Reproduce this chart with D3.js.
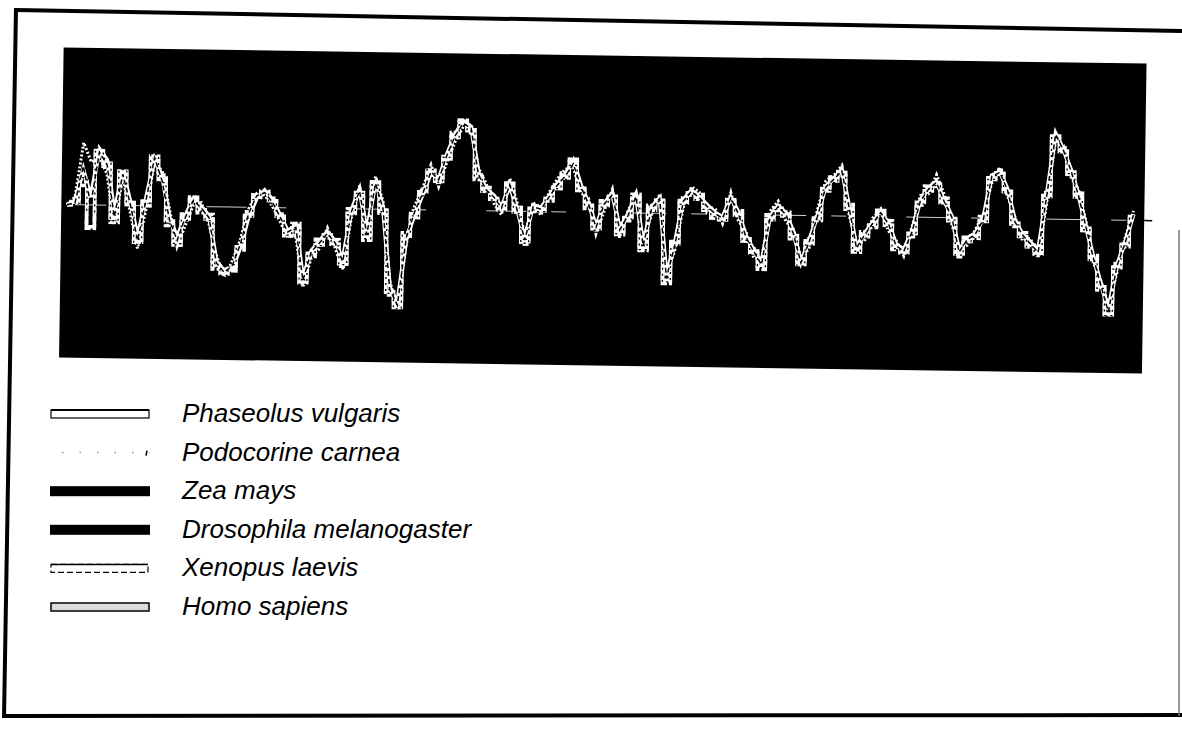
<!DOCTYPE html>
<meta charset="utf-8">
<script src="https://d3js.org/d3.v7.min.js"></script>
<style>
  body { margin: 0; background: #fff; }
</style>
<div id="hydro"></div>

<script>
// hydropathy profiles, one value per residue

const width = 1182
const height = 730

const species = ["Phaseolus vulgaris", "Podocorine carnea", "Zea mays",
                 "Drosophila melanogaster", "Xenopus laevis", "Homo sapiens"]

const residues = d3.range(1, 137)

const phaseolus = [0.00, 0.05, 0.45, 0.10, 0.72, 0.58, -0.10, 0.45, 0.05, -0.40,
  0.10, 0.60, 0.38, -0.15, -0.40, -0.12, 0.10, 0.00, -0.12, -0.70,
  -0.82, -0.80, -0.52, -0.12, 0.12, 0.22, 0.10, -0.10, -0.30, -0.22,
  -0.90, -0.55, -0.42, -0.30, -0.42, -0.66, -0.02, 0.25, -0.30, 0.36,
  0.03, -1.00, -1.20, -0.38, -0.06, 0.20, 0.48, 0.40, 0.72, 0.98,
  1.15, 1.08, 0.50, 0.28, 0.20, 0.05, 0.33, 0.02, -0.35, 0.08,
  0.05, 0.20, 0.36, 0.48, 0.66, 0.35, 0.12, -0.18, 0.12, 0.25,
  -0.20, -0.02, 0.22, -0.40, 0.08, 0.20, -0.80, -0.38, 0.18, 0.30,
  0.22, 0.12, 0.02, -0.04, 0.22, 0.03, -0.28, -0.45, -0.62, -0.02,
  0.12, 0.03, -0.22, -0.60, -0.32, 0.00, 0.38, 0.48, 0.60, 0.12,
  -0.40, -0.22, -0.08, 0.06, -0.08, -0.35, -0.42, -0.18, 0.22, 0.38,
  0.46, 0.22, 0.02, -0.42, -0.26, -0.20, 0.00, 0.55, 0.60, 0.38,
  -0.02, -0.20, -0.30, -0.40, 0.32, 1.10, 0.90, 0.64, 0.32, -0.08,
  -0.48, -0.82, -1.15, -0.58, -0.28, 0.08]

const podocorine = [0.00, 0.10, 0.80, 0.55, 0.62, 0.40, -0.25, 0.35, -0.08, -0.55,
  -0.05, 0.55, 0.45, -0.05, -0.52, -0.25, 0.02, 0.05, -0.22, -0.62,
  -0.90, -0.70, -0.42, -0.02, 0.18, 0.16, 0.02, -0.18, -0.38, -0.35,
  -1.02, -0.64, -0.52, -0.25, -0.50, -0.78, -0.12, 0.30, -0.25, 0.42,
  0.10, -0.92, -1.28, -0.45, 0.05, 0.28, 0.58, 0.30, 0.62, 0.88,
  1.08, 1.10, 0.55, 0.35, 0.10, -0.05, 0.42, 0.10, -0.30, 0.12,
  -0.05, 0.25, 0.42, 0.55, 0.58, 0.25, 0.18, -0.28, 0.02, 0.30,
  -0.32, 0.02, 0.26, -0.35, -0.02, 0.25, -0.78, -0.48, 0.08, 0.35,
  0.28, 0.02, 0.08, -0.12, 0.28, -0.08, -0.22, -0.55, -0.58, 0.05,
  0.18, -0.08, -0.18, -0.55, -0.42, 0.08, 0.45, 0.52, 0.65, 0.02,
  -0.35, -0.32, -0.02, 0.10, -0.18, -0.30, -0.50, -0.12, 0.28, 0.30,
  0.55, 0.30, -0.08, -0.38, -0.35, -0.15, 0.05, 0.45, 0.65, 0.30,
  0.02, -0.28, -0.25, -0.50, 0.22, 1.02, 0.95, 0.55, 0.38, -0.02,
  -0.55, -0.78, -1.10, -0.68, -0.22, 0.12]

const zeaMays = [0.00, 0.02, 0.50, 0.00, 0.68, 0.52, -0.15, 0.40, 0.02, -0.45,
  0.08, 0.62, 0.32, -0.18, -0.44, -0.14, 0.08, -0.02, -0.14, -0.72,
  -0.84, -0.76, -0.48, -0.08, 0.15, 0.19, 0.07, -0.12, -0.31, -0.25,
  -0.93, -0.56, -0.45, -0.32, -0.44, -0.68, -0.04, 0.23, -0.33, 0.33,
  0.01, -1.03, -1.23, -0.36, -0.03, 0.21, 0.49, 0.39, 0.71, 0.96,
  1.12, 1.06, 0.47, 0.27, 0.18, 0.04, 0.34, 0.01, -0.37, 0.06,
  0.03, 0.19, 0.34, 0.46, 0.62, 0.33, 0.11, -0.19, 0.11, 0.23,
  -0.22, -0.04, 0.21, -0.42, 0.06, 0.19, -0.83, -0.41, 0.16, 0.29,
  0.21, 0.10, 0.01, -0.05, 0.21, 0.01, -0.29, -0.47, -0.64, -0.04,
  0.11, 0.01, -0.24, -0.61, -0.34, -0.01, 0.37, 0.47, 0.58, 0.11,
  -0.41, -0.24, -0.09, 0.05, -0.09, -0.37, -0.44, -0.19, 0.21, 0.36,
  0.45, 0.21, 0.01, -0.44, -0.28, -0.21, -0.02, 0.54, 0.59, 0.37,
  -0.04, -0.21, -0.32, -0.43, 0.31, 1.09, 0.89, 0.63, 0.31, -0.09,
  -0.49, -0.84, -1.18, -0.59, -0.29, 0.07]

const drosophila = [0.00, 0.00, 0.35, -0.10, 0.74, 0.60, -0.20, 0.46, -0.03, -0.50,
  0.02, 0.66, 0.30, -0.23, -0.48, -0.18, 0.06, -0.06, -0.18, -0.78,
  -0.88, -0.74, -0.46, -0.14, 0.10, 0.23, 0.05, -0.15, -0.35, -0.28,
  -0.98, -0.60, -0.48, -0.36, -0.48, -0.72, -0.08, 0.20, -0.38, 0.31,
  -0.03, -1.08, -1.28, -0.32, -0.08, 0.18, 0.52, 0.36, 0.68, 0.92,
  1.10, 1.02, 0.42, 0.23, 0.14, 0.00, 0.32, -0.03, -0.41, 0.02,
  0.00, 0.15, 0.30, 0.42, 0.60, 0.29, 0.07, -0.23, 0.07, 0.19,
  -0.27, -0.08, 0.17, -0.47, 0.02, 0.15, -0.88, -0.43, 0.12, 0.25,
  0.17, 0.06, -0.03, -0.09, 0.17, -0.03, -0.33, -0.51, -0.68, -0.08,
  0.07, -0.03, -0.28, -0.65, -0.38, -0.05, 0.33, 0.43, 0.54, 0.07,
  -0.45, -0.28, -0.13, 0.01, -0.13, -0.41, -0.48, -0.23, 0.17, 0.32,
  0.41, 0.17, -0.03, -0.48, -0.32, -0.25, -0.06, 0.50, 0.55, 0.33,
  -0.08, -0.25, -0.36, -0.47, 0.27, 1.05, 0.85, 0.59, 0.27, -0.13,
  -0.53, -0.88, -1.23, -0.63, -0.33, 0.03]

const xenopus = [0.00, 0.04, 0.30, -0.30, 0.66, 0.50, -0.22, 0.40, 0.04, -0.44,
  0.00, 0.58, 0.40, -0.25, -0.50, -0.10, 0.12, -0.08, -0.10, -0.80,
  -0.80, -0.82, -0.55, -0.06, 0.16, 0.18, 0.12, -0.08, -0.36, -0.20,
  -0.88, -0.62, -0.40, -0.38, -0.40, -0.74, 0.00, 0.18, -0.40, 0.30,
  -0.05, -1.10, -1.20, -0.30, -0.10, 0.25, 0.45, 0.42, 0.66, 1.00,
  1.16, 1.00, 0.40, 0.30, 0.15, 0.08, 0.30, 0.05, -0.42, 0.00,
  0.07, 0.14, 0.30, 0.50, 0.68, 0.28, 0.05, -0.15, 0.15, 0.18,
  -0.28, -0.10, 0.24, -0.48, 0.10, 0.14, -0.90, -0.36, 0.20, 0.24,
  0.25, 0.05, -0.05, -0.02, 0.16, 0.05, -0.34, -0.44, -0.70, 0.00,
  0.06, 0.04, -0.30, -0.58, -0.30, -0.06, 0.32, 0.50, 0.52, 0.15,
  -0.46, -0.20, -0.14, 0.08, -0.05, -0.42, -0.40, -0.25, 0.16, 0.40,
  0.40, 0.25, -0.04, -0.50, -0.25, -0.26, 0.02, 0.50, 0.62, 0.32,
  -0.10, -0.18, -0.36, -0.40, 0.34, 1.04, 0.92, 0.58, 0.34, -0.14,
  -0.46, -0.90, -1.22, -0.56, -0.34, 0.05]

const homo = [0.00, 0.03, 0.25, -0.28, 0.70, 0.54, -0.16, 0.44, 0.01, -0.47,
  0.06, 0.64, 0.34, -0.19, -0.46, -0.16, 0.09, -0.04, -0.16, -0.76,
  -0.86, -0.79, -0.51, -0.11, 0.13, 0.21, 0.09, -0.11, -0.33, -0.27,
  -0.96, -0.58, -0.47, -0.34, -0.46, -0.71, -0.06, 0.21, -0.36, 0.35,
  -0.01, -1.06, -1.26, -0.34, -0.05, 0.23, 0.51, 0.37, 0.69, 0.94,
  1.14, 1.04, 0.44, 0.25, 0.16, 0.02, 0.36, -0.01, -0.39, 0.04,
  0.01, 0.17, 0.32, 0.44, 0.64, 0.31, 0.09, -0.21, 0.09, 0.21,
  -0.25, -0.06, 0.19, -0.45, 0.04, 0.17, -0.86, -0.39, 0.14, 0.27,
  0.19, 0.08, -0.01, -0.07, 0.19, -0.01, -0.31, -0.49, -0.66, -0.06,
  0.09, -0.01, -0.26, -0.63, -0.36, -0.03, 0.35, 0.45, 0.56, 0.09,
  -0.43, -0.26, -0.11, 0.03, -0.11, -0.39, -0.46, -0.21, 0.19, 0.34,
  0.43, 0.19, -0.01, -0.46, -0.30, -0.23, -0.04, 0.52, 0.57, 0.35,
  -0.06, -0.23, -0.34, -0.45, 0.29, 1.07, 0.87, 0.61, 0.29, -0.11,
  -0.51, -0.86, -1.21, -0.61, -0.31, 0.05]

// white traces first, the black ones go on top and punch holes in them
const traces = [
  {name: species[0], values: phaseolus,  color: "#fff", w: 4.2, dash: null,  curve: d3.curveLinear},
  {name: species[5], values: homo,       color: "#fff", w: 3.6, dash: null,  curve: d3.curveStep},
  {name: species[4], values: xenopus,    color: "#fff", w: 3.6, dash: "6 2", curve: d3.curveStep},
  {name: species[1], values: podocorine, color: "#fff", w: 3.0, dash: "2 2", curve: d3.curveLinear},
  {name: species[2], values: zeaMays,    color: "#000", w: 1.5, dash: "5 3", curve: d3.curveLinear},
  {name: species[3], values: drosophila, color: "#000", w: 1.3, dash: "2 4", curve: d3.curveStep}
]

const svg = d3.select("#hydro")
  .append("svg")
  .attr("width", width)
  .attr("height", height)
  .style("background", "#fff")

// outer frame of the scanned page
svg.append("path").attr("d", "M16,10 L1182,31").attr("stroke", "#000").attr("stroke-width", 4).attr("fill", "none")
svg.append("path").attr("d", "M16,8 L4,718").attr("stroke", "#000").attr("stroke-width", 4).attr("fill", "none")
svg.append("path").attr("d", "M4,716 L1182,715").attr("stroke", "#000").attr("stroke-width", 4).attr("fill", "none")
svg.append("path").attr("d", "M1179,230 L1179,716").attr("stroke", "#777").attr("stroke-width", 1.5).attr("fill", "none")

// the plot itself is a little skewed on the scan
const plot = svg.append("g").attr("transform", "rotate(0.85,600,365)")

plot.append("rect")
  .attr("x", 59).attr("y", 55.5)
  .attr("width", 1083).attr("height", 310)
  .attr("fill", "#000")

const x = d3.scaleLinear().domain([1, 136]).range([64.7, 1131.2])
const y = d3.scaleLinear().domain([-2, 2]).range([368, 57])

plot.append("line")
  .attr("x1", 64).attr("x2", 1142)
  .attr("y1", y(0)).attr("y2", y(0))
  .attr("stroke", "#fff").attr("stroke-width", 0.8)
  .attr("stroke-dasharray", "40 25 15 60")
plot.append("line")
  .attr("x1", 1142).attr("x2", 1150)
  .attr("y1", y(0)).attr("y2", y(0))
  .attr("stroke", "#000").attr("stroke-width", 1.5)

plot.selectAll(".trace")
  .data(traces)
  .join("path")
    .attr("class", "trace")
    .attr("d", d => d3.line().curve(d.curve).x((v, i) => x(residues[i])).y(v => y(v))(d.values))
    .attr("fill", "none")
    .attr("stroke", d => d.color)
    .attr("stroke-width", d => d.w)
    .attr("stroke-dasharray", d => d.dash)
    .attr("stroke-linejoin", "miter")

// legend
const legend = svg.append("g")
const rowY = d3.scaleLinear().domain([0, 5]).range([414, 607])

species.forEach(function(name, i) {
  const cy = rowY(i)
  const g = legend.append("g")
  if (i == 0) {
    g.append("rect").attr("x", 51).attr("y", cy - 4).attr("width", 98).attr("height", 8)
      .attr("fill", "#fff").attr("stroke", "#000").attr("stroke-width", 1.2)
    g.append("line").attr("x1", 51).attr("x2", 149).attr("y1", cy - 4).attr("y2", cy - 4)
      .attr("stroke", "#000").attr("stroke-width", 2)
  } else if (i == 1) {
    g.append("line").attr("x1", 62).attr("x2", 150).attr("y1", cy).attr("y2", cy)
      .attr("stroke", "#999").attr("stroke-width", 1.5).attr("stroke-dasharray", "1.5 16")
    g.append("line").attr("x1", 147).attr("x2", 146).attr("y1", cy - 2).attr("y2", cy + 3)
      .attr("stroke", "#000").attr("stroke-width", 1.5)
  } else if (i == 2 || i == 3) {
    g.append("rect").attr("x", 50).attr("y", cy - 5).attr("width", 100).attr("height", 10)
      .attr("fill", "#000")
  } else if (i == 4) {
    g.append("rect").attr("x", 51).attr("y", cy - 4).attr("width", 97).attr("height", 8)
      .attr("fill", "#fff").attr("stroke", "#000").attr("stroke-width", 1.2)
      .attr("stroke-dasharray", "6 3")
    g.append("line").attr("x1", 51).attr("x2", 148).attr("y1", cy - 4).attr("y2", cy - 4)
      .attr("stroke", "#000").attr("stroke-width", 1.5)
  } else {
    g.append("rect").attr("x", 51).attr("y", cy - 4).attr("width", 98).attr("height", 8)
      .attr("fill", "#ddd").attr("stroke", "#000").attr("stroke-width", 1.5)
  }
  g.append("text")
    .attr("x", 182)
    .attr("y", cy + 8)
    .text(name)
    .style("font-family", "'Liberation Sans', Arial, sans-serif")
    .style("font-style", "italic")
    .style("font-size", "26px")
    .style("fill", "#000")
})
</script>
